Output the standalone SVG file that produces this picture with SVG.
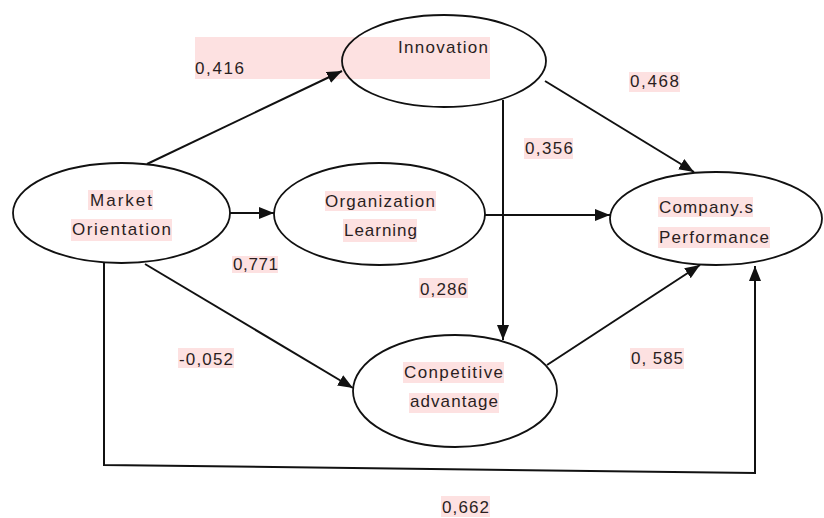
<svg xmlns="http://www.w3.org/2000/svg" width="824" height="518" viewBox="0 0 824 518">
  <style>
    .node ellipse { fill: none; stroke: #111; stroke-width: 1.8; }
    .hl { fill: #fde1e1; }
    text { font-family: "Liberation Sans", Arial, sans-serif; font-size: 17px; fill: #2a1e1e; }
    .conn { fill: none; stroke: #111; stroke-width: 2; }
  </style>
  <defs>
    <marker id="arrow" markerUnits="userSpaceOnUse" markerWidth="15" markerHeight="12" refX="15" refY="6" orient="auto">
      <path d="M0,0 L15,6 L0,12 z" fill="#111"/>
    </marker>
  </defs>
  <rect width="824" height="518" fill="#fff"/>

  <!-- big highlight behind 0,416 / Innovation -->
  <rect class="hl" x="195" y="37" width="295" height="42"/>

  <g id="connectors">
    <line class="conn" x1="147" y1="164" x2="342" y2="71" marker-end="url(#arrow)"/>
    <line class="conn" x1="230" y1="213" x2="274" y2="213" marker-end="url(#arrow)"/>
    <line class="conn" x1="485" y1="215" x2="610" y2="215" marker-end="url(#arrow)"/>
    <line class="conn" x1="545" y1="81" x2="694" y2="172" marker-end="url(#arrow)"/>
    <line class="conn" x1="503" y1="100" x2="503" y2="340" marker-end="url(#arrow)"/>
    <line class="conn" x1="145" y1="264" x2="353" y2="388" marker-end="url(#arrow)"/>
    <line class="conn" x1="547" y1="365" x2="700" y2="265" marker-end="url(#arrow)"/>
    <polyline class="conn" points="104,262 104,465 755,473 755,266" marker-end="url(#arrow)"/>
  </g>

  <g id="labels">
    <text x="195" y="74" textLength="49">0,416</text>
    <rect class="hl" x="629" y="72" width="51" height="20"/>
    <text x="630" y="87" textLength="49">0,468</text>
    <rect class="hl" x="524" y="138" width="49" height="21"/>
    <text x="525" y="154" textLength="48">0,356</text>
    <rect class="hl" x="232" y="256" width="46" height="17"/>
    <text x="233" y="270" textLength="45">0,771</text>
    <rect class="hl" x="419" y="278" width="49" height="20"/>
    <text x="420" y="295" textLength="47">0,286</text>
    <rect class="hl" x="178" y="348" width="56" height="20"/>
    <text x="179" y="365" textLength="54">-0,052</text>
    <rect class="hl" x="630" y="348" width="54" height="21"/>
    <text x="631" y="364" textLength="52">0, 585</text>
    <rect class="hl" x="441" y="496" width="49" height="21"/>
    <text x="442" y="513" textLength="47">0,662</text>
  </g>

  <g id="innovation" class="node">
    <ellipse cx="444" cy="61" rx="102" ry="46"/>
    <text x="398" y="53" textLength="90">Innovation</text>
  </g>

  <g id="market-orientation" class="node">
    <ellipse cx="121.5" cy="213" rx="108.5" ry="50"/>
    <rect class="hl" x="88" y="190" width="65" height="20"/>
    <text x="90" y="206" textLength="62">Market</text>
    <rect class="hl" x="71" y="219" width="101" height="22"/>
    <text x="72" y="235" textLength="99">Orientation</text>
  </g>

  <g id="organization-learning" class="node">
    <ellipse cx="379.5" cy="214" rx="105.5" ry="51"/>
    <rect class="hl" x="325" y="191" width="111" height="20"/>
    <text x="325" y="207" textLength="110">Organization</text>
    <rect class="hl" x="343" y="219" width="74" height="23"/>
    <text x="344" y="236" textLength="73">Learning</text>
  </g>

  <g id="company-performance" class="node">
    <ellipse cx="716" cy="218.5" rx="106" ry="46.5"/>
    <rect class="hl" x="658" y="197" width="95" height="20"/>
    <text x="659" y="213" textLength="94">Company.s</text>
    <rect class="hl" x="658" y="227" width="112" height="21"/>
    <text x="659" y="243" textLength="110">Performance</text>
  </g>

  <g id="competitive-advantage" class="node">
    <ellipse cx="455" cy="391" rx="102" ry="56"/>
    <rect class="hl" x="403" y="362" width="101" height="21"/>
    <text x="404" y="378" textLength="99">Conpetitive</text>
    <rect class="hl" x="409" y="393" width="90" height="20"/>
    <text x="410" y="407" textLength="88">advantage</text>
  </g>
</svg>
